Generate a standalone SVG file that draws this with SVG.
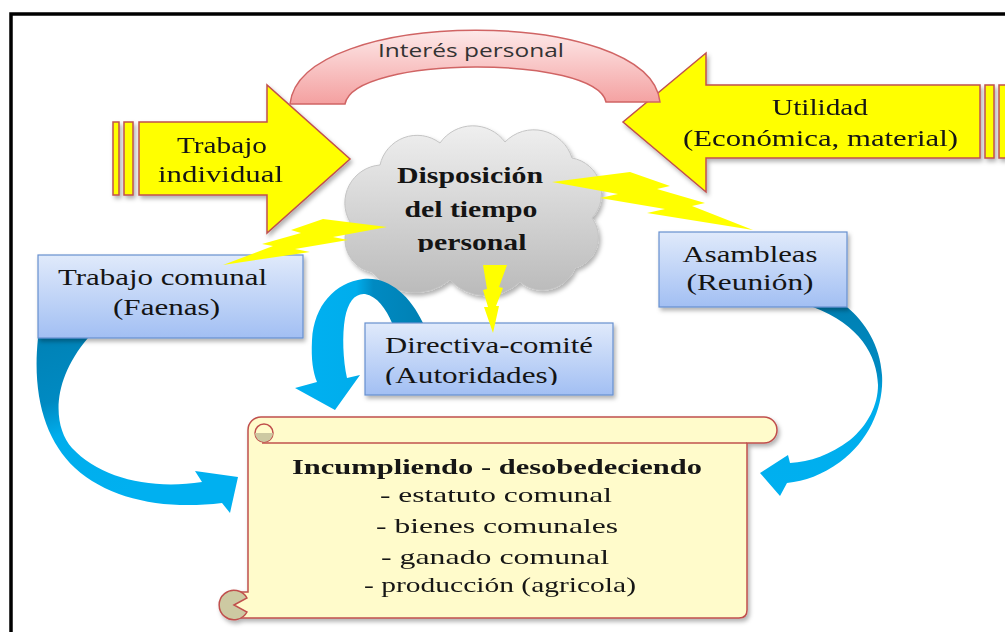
<svg xmlns="http://www.w3.org/2000/svg" width="1005" height="632" viewBox="0 0 1005 632">
<defs>
  <linearGradient id="pinkG" x1="0" y1="0" x2="0" y2="1"><stop offset="0" stop-color="#fde9e9"/><stop offset="1" stop-color="#f4a0a0"/></linearGradient>
  <linearGradient id="cloudG" x1="0" y1="0" x2="0" y2="1"><stop offset="0" stop-color="#efefef"/><stop offset="1" stop-color="#bababa"/></linearGradient>
  <linearGradient id="boxG" x1="0" y1="0" x2="0" y2="1"><stop offset="0" stop-color="#e0eafb"/><stop offset="1" stop-color="#a2bff3"/></linearGradient>
  <linearGradient id="blueL" gradientUnits="userSpaceOnUse" x1="0" y1="335" x2="60" y2="515"><stop offset="0" stop-color="#0080b3"/><stop offset="0.42" stop-color="#008ac2"/><stop offset="0.6" stop-color="#00adec"/><stop offset="1" stop-color="#00b0f0"/></linearGradient>
  <linearGradient id="blueM" gradientUnits="userSpaceOnUse" x1="310" y1="0" x2="425" y2="0"><stop offset="0" stop-color="#00b0f0"/><stop offset="0.4" stop-color="#00adec"/><stop offset="0.55" stop-color="#008ac2"/><stop offset="1" stop-color="#0080b3"/></linearGradient>
  <linearGradient id="blueR" gradientUnits="userSpaceOnUse" x1="0" y1="307" x2="0" y2="495"><stop offset="0" stop-color="#0080b3"/><stop offset="0.35" stop-color="#008ac2"/><stop offset="0.5" stop-color="#00adec"/><stop offset="1" stop-color="#00b0f0"/></linearGradient>
  <filter id="sh" x="-10%" y="-10%" width="130%" height="140%"><feDropShadow dx="2" dy="3" stdDeviation="2" flood-color="#000" flood-opacity="0.3"/></filter>
  <clipPath id="clipCloud"><rect x="380" y="150" width="200" height="102"/></clipPath>
  <clipPath id="clipDir"><rect x="370" y="325" width="240" height="60"/></clipPath>
</defs>
<style>
  .arrowY { fill:#ffff00; stroke:#c0504d; stroke-width:1.5; }
  .box { fill:url(#boxG); stroke:#6790cf; stroke-width:1.2; }
  .serif { font-family:"Liberation Serif","Times New Roman",serif; fill:#141414; }
  .bold { font-weight:bold; }
  .bolt { fill:#ffff00; }
  .scroll { fill:#fffbcb; stroke:#c0504d; stroke-width:1.5; }
  .olive { fill:#cdc9a2; stroke:#c0504d; stroke-width:1.5; }
</style>

<rect id="frame" x="11" y="14" width="1010" height="640" fill="none" stroke="#000" stroke-width="3.5"/>

<g id="trabajo-individual" filter="url(#sh)">
  <rect class="arrowY" x="113" y="122" width="6" height="73"/>
  <rect class="arrowY" x="124" y="122" width="9" height="73"/>
  <path class="arrowY" d="M139,122 H267 V85 L350,159 L267,233 V195 H139 Z"/>
  <text class="serif" font-size="24" text-anchor="middle" x="222" y="153" textLength="90" lengthAdjust="spacingAndGlyphs">Trabajo</text>
  <text class="serif" font-size="24" text-anchor="middle" x="220.5" y="182" textLength="125" lengthAdjust="spacingAndGlyphs">individual</text>
</g>

<g id="utilidad" filter="url(#sh)">
  <path class="arrowY" d="M980,85 H706 V53 L623,122 L706,192 V158 H980 Z"/>
  <rect class="arrowY" x="985" y="85" width="9" height="73"/>
  <rect class="arrowY" x="999" y="85" width="9" height="73"/>
  <text class="serif" font-size="23" text-anchor="middle" x="820" y="115" textLength="96" lengthAdjust="spacingAndGlyphs">Utilidad</text>
  <text class="serif" font-size="23" text-anchor="middle" x="820.5" y="146" textLength="275" lengthAdjust="spacingAndGlyphs">(Económica, material)</text>
</g>

<g id="interes-personal">
  <path d="M290,104 C300,6 650,6 660,102 L606,102 C596,55 354,55 345,104 Z" fill="url(#pinkG)" stroke="#d06464" stroke-width="1.5"/>
  <text x="471" y="57" text-anchor="middle" font-family="'Open Sans','Liberation Sans',sans-serif" font-size="19" fill="#333" textLength="186" lengthAdjust="spacingAndGlyphs">Interés personal</text>
</g>

<g id="disposicion" >
  <path filter="url(#sh)" d="M372,272 A33,33 0 0 1 350,222 A38,38 0 0 1 380,165 A38,38 0 0 1 440,143 A40,40 0 0 1 505,142 A40,40 0 0 1 572,158 A36,36 0 0 1 592,218 A32,32 0 0 1 575,268 A35,35 0 0 1 520,282 A49,49 0 0 1 450,280 A55,55 0 0 1 372,272 Z" fill="url(#cloudG)" stroke="#c4c4c4" stroke-width="1"/>
  <g clip-path="url(#clipCloud)">
    <text class="serif bold" font-size="24" text-anchor="middle" x="470" y="183" textLength="146" lengthAdjust="spacingAndGlyphs">Disposición</text>
    <text class="serif bold" font-size="24" text-anchor="middle" x="471" y="217" textLength="133" lengthAdjust="spacingAndGlyphs">del tiempo</text>
    <text class="serif bold" font-size="24" text-anchor="middle" x="472" y="250" textLength="109" lengthAdjust="spacingAndGlyphs">personal</text>
  </g>
</g>

<g id="connectors">
  <path d="M38,338 C32,395 45,440 75,468 C110,500 165,510 222,503 L230,513 L238,477 L195,471 L202,482 C150,490 100,478 72,448 C52,425 52,380 88,338 Z" fill="url(#blueL)"/>
  <path d="M423,323 C410,295 388,276 363,279 C335,283 314,305 312,340 C311,360 313,372 317,382 L295,388 L335,410 L360,375 L347,378 C343,360 342,335 345,318 C348,302 355,293 365,294 C377,296 386,309 392,323 Z" fill="url(#blueM)"/>
  <path d="M847,307 C865,322 880,345 882,375 C884,405 870,440 840,462 C822,475 805,481 787,483 L780,496 L760,473 L788,455 L790,463 C810,462 830,455 850,440 C868,425 878,405 878,385 C877,355 860,325 813,307 Z" fill="url(#blueR)"/>
</g>

<g id="incumpliendo" filter="url(#sh)">
  <path class="scroll" d="M248,430 A13,13 0 0 1 261,417 L764,417 A13,13 0 0 1 764,443 L747,443 L747,610 Q747,618 739,618 L234,618 A13,13 0 0 1 234,592 L248,592 Z"/>
  <line x1="262" y1="443" x2="747" y2="443" stroke="#c0504d" stroke-width="1.5"/>
  <circle cx="264" cy="433" r="9" fill="#fffbcb" stroke="#c0504d" stroke-width="1.5"/>
  <path d="M255,433 A9,9 0 0 0 273,433 Z" fill="#cdc9a2"/>
  <path class="olive" d="M234,605 L247,598 A14.8,14.8 0 1 0 247,612 Z"/>
  <text class="serif bold" font-size="22" text-anchor="middle" x="497" y="474" textLength="410" lengthAdjust="spacingAndGlyphs">Incumpliendo - desobedeciendo</text>
  <text class="serif" font-size="22" text-anchor="middle" x="496" y="502" textLength="232" lengthAdjust="spacingAndGlyphs">- estatuto comunal</text>
  <text class="serif" font-size="22" text-anchor="middle" x="497" y="533" textLength="242" lengthAdjust="spacingAndGlyphs">- bienes comunales</text>
  <text class="serif" font-size="22" text-anchor="middle" x="495" y="564" textLength="228" lengthAdjust="spacingAndGlyphs">- ganado comunal</text>
  <text class="serif" font-size="22" text-anchor="middle" x="500" y="592" textLength="272" lengthAdjust="spacingAndGlyphs">- producción (agricola)</text>
</g>

<g id="trabajo-comunal">
  <rect class="box" filter="url(#sh)" x="38" y="255" width="265" height="83"/>
  <text class="serif" font-size="23" text-anchor="middle" x="162.5" y="285" textLength="209" lengthAdjust="spacingAndGlyphs">Trabajo comunal</text>
  <text class="serif" font-size="23" text-anchor="middle" x="166.5" y="315" textLength="107" lengthAdjust="spacingAndGlyphs">(Faenas)</text>
</g>

<g id="asambleas">
  <rect class="box" filter="url(#sh)" x="659" y="232" width="188" height="75"/>
  <text class="serif" font-size="23" text-anchor="middle" x="750" y="262" textLength="135" lengthAdjust="spacingAndGlyphs">Asambleas</text>
  <text class="serif" font-size="23" text-anchor="middle" x="750" y="290" textLength="127" lengthAdjust="spacingAndGlyphs">(Reunión)</text>
</g>

<g id="directiva">
  <rect class="box" filter="url(#sh)" x="365" y="323" width="248" height="72"/>
  <g clip-path="url(#clipDir)">
    <text class="serif" font-size="23" x="385" y="353" textLength="208" lengthAdjust="spacingAndGlyphs">Directiva-comité</text>
    <text class="serif" font-size="23" x="385" y="383" textLength="173" lengthAdjust="spacingAndGlyphs">(Autoridades)</text>
  </g>
</g>

<g id="bolts">
  <polygon class="bolt" points="387,227 323,219 291,230 301,233 262,244 273,246 223,265 310,252 295,249 348,240 333,237"/>
  <polygon class="bolt" points="552,182 630,172 670,186 657,189 705,203 692,206 753,230 647,213 665,209 600,198 618,194"/>
  <polygon class="bolt" points="483,265 507,265 499,287 503,288 496,306 499,306 493,333 484,307 488,307 483,290 487,289"/>
</g>
</svg>
